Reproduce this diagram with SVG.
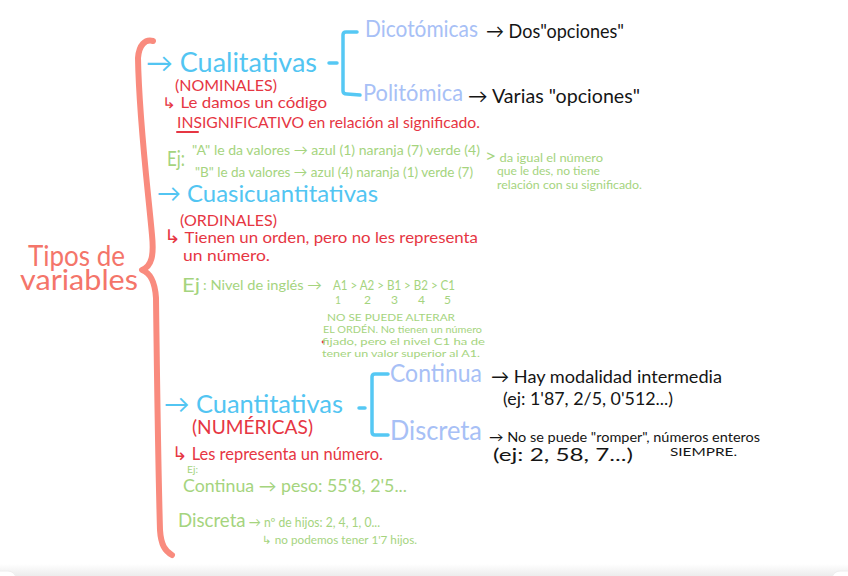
<svg xmlns="http://www.w3.org/2000/svg" width="848" height="576" viewBox="0 0 848 576">
<defs>
<linearGradient id="shade" x1="0" y1="0" x2="0" y2="1">
<stop offset="0" stop-color="#ffffff"/>
<stop offset="1" stop-color="#ececec"/>
</linearGradient>
<style>
text{font-family:Lato,"Open Sans","DejaVu Sans",sans-serif;}
.ttl{fill:#f4756a;font-size:29px;}
.cy{fill:#52c5f2;}
.pw{fill:#a7c0f6;}
.rd{fill:#e63643;}
.gr{fill:#a5d47e;}
.bk{fill:#151515;}
.brace{fill:none;stroke:#f98b7e;stroke-width:6;stroke-linecap:round;stroke-linejoin:round;}
.brk{fill:none;stroke:#55c8f4;stroke-width:3.5;stroke-linecap:round;stroke-linejoin:round;}
</style>
</defs>
<rect width="848" height="576" fill="#ffffff"/>
<rect x="0" y="564" width="848" height="12" fill="url(#shade)"/>
<rect x="-20" y="571" width="36" height="20" rx="8" fill="#ffffff" stroke="#eeeeee"/>
<rect x="832" y="571" width="36" height="20" rx="8" fill="#ffffff" stroke="#eeeeee"/>

<g id="connectors">
<path class="brace" d="M153 41 C145 39 139 45 138 58 C139 120 148 190 152 235 C154 255 152 266 142 270 C151 273 155 282 156 298 C157 380 158 460 160 530 C161 545 165 551 172 555"/>
<path class="brk" d="M357 32 L346 32 Q343 32 343 35 L343 91 Q343 94 347 94 L360 95"/>
<path class="brk" d="M329 63 L337 63"/>
<path class="brk" d="M388 374 L375 374 Q372 374 372 377 L372 432 Q372 435 375 435 L388 435"/>
<path class="brk" d="M359 408 L365 408"/>
</g>

<g id="title">
<text class="ttl" x="28" y="266" textLength="97" lengthAdjust="spacingAndGlyphs">Tipos de</text>
<text class="ttl" x="20" y="290" textLength="118" lengthAdjust="spacingAndGlyphs">variables</text>
</g>

<g id="cualitativas">
<text class="cy" x="146" y="72" font-size="26" textLength="171" lengthAdjust="spacingAndGlyphs">→ Cualitativas</text>
<text class="rd" x="175" y="91" font-size="15.5" textLength="102" lengthAdjust="spacingAndGlyphs">(NOMINALES)</text>
<text class="rd" x="162" y="108" font-size="15" textLength="165" lengthAdjust="spacingAndGlyphs">↳ Le damos un código</text>
<text class="rd" x="177" y="128" font-size="16" textLength="303" lengthAdjust="spacingAndGlyphs">INSIGNIFICATIVO en relación al significado.</text>
<path d="M177 132 L198 132" stroke="#e63643" stroke-width="2" stroke-linecap="round"/>
</g>

<g id="dicotomicas">
<text class="pw" x="365" y="37" font-size="24" textLength="113" lengthAdjust="spacingAndGlyphs">Dicotómicas</text>
<text class="bk" x="486" y="38" font-size="19" textLength="138" lengthAdjust="spacingAndGlyphs">→ Dos"opciones"</text>
</g>

<g id="politomica">
<text class="pw" x="363" y="101" font-size="23" textLength="100" lengthAdjust="spacingAndGlyphs">Politómica</text>
<text class="bk" x="468" y="103" font-size="19" textLength="172" lengthAdjust="spacingAndGlyphs">→ Varias "opciones"</text>
</g>

<g id="ejemplo-nominales">
<text class="gr" x="167" y="166" font-size="22" textLength="18" lengthAdjust="spacingAndGlyphs">Ej:</text>
<text class="gr" x="192" y="155" font-size="14" textLength="288" lengthAdjust="spacingAndGlyphs">"A" le da valores → azul (1) naranja (7) verde (4)</text>
<text class="gr" x="195" y="177" font-size="14" textLength="278" lengthAdjust="spacingAndGlyphs">"B" le da valores → azul (4) naranja (1) verde (7)</text>
<text class="gr" x="485" y="162" font-size="12" textLength="118" lengthAdjust="spacingAndGlyphs"><tspan font-size="18">&gt;</tspan> da igual el número</text>
<text class="gr" x="497" y="175" font-size="12" textLength="103" lengthAdjust="spacingAndGlyphs">que le des, no tiene</text>
<text class="gr" x="497" y="189" font-size="12" textLength="145" lengthAdjust="spacingAndGlyphs">relación con su significado.</text>
</g>

<g id="cuasicuantitativas">
<text class="cy" x="157" y="202" font-size="24" textLength="221" lengthAdjust="spacingAndGlyphs">→ Cuasicuantitativas</text>
<text class="rd" x="180" y="226" font-size="16" textLength="97" lengthAdjust="spacingAndGlyphs">(ORDINALES)</text>
<text class="rd" x="164" y="243" font-size="16" textLength="314" lengthAdjust="spacingAndGlyphs"><tspan font-size="19">↳</tspan> Tienen un orden, pero no les representa</text>
<text class="rd" x="183" y="261" font-size="16" textLength="87" lengthAdjust="spacingAndGlyphs">un número.</text>
</g>

<g id="ejemplo-ordinales">
<text class="gr" x="182" y="292" font-size="20" textLength="18" lengthAdjust="spacingAndGlyphs">Ej</text>
<text class="gr" x="203" y="290" font-size="14" textLength="119" lengthAdjust="spacingAndGlyphs">: Nivel de inglés →</text>
<text class="gr" x="333" y="290" font-size="14" textLength="122" lengthAdjust="spacingAndGlyphs">A1 &gt; A2 &gt; B1 &gt; B2 &gt; C1</text>
<text class="gr" x="335" y="304" font-size="11" textLength="6" lengthAdjust="spacingAndGlyphs">1</text>
<text class="gr" x="364" y="304" font-size="11" textLength="7" lengthAdjust="spacingAndGlyphs">2</text>
<text class="gr" x="391" y="304" font-size="11" textLength="7" lengthAdjust="spacingAndGlyphs">3</text>
<text class="gr" x="418" y="304" font-size="11" textLength="7" lengthAdjust="spacingAndGlyphs">4</text>
<text class="gr" x="444" y="304" font-size="11" textLength="7" lengthAdjust="spacingAndGlyphs">5</text>
<text class="gr" x="327" y="321" font-size="10" textLength="128" lengthAdjust="spacingAndGlyphs">NO SE PUEDE ALTERAR</text>
<text class="gr" x="323" y="332.5" font-size="10" textLength="159" lengthAdjust="spacingAndGlyphs">EL ORDÉN. No tienen un número</text>
<circle cx="323" cy="342" r="1.4" fill="#e63643"/>
<text class="gr" x="322" y="344.5" font-size="10" textLength="163" lengthAdjust="spacingAndGlyphs">fijado, pero el nivel C1 ha de</text>
<text class="gr" x="322" y="356.5" font-size="10" textLength="158" lengthAdjust="spacingAndGlyphs">tener un valor superior al A1.</text>
</g>

<g id="cuantitativas">
<text class="cy" x="164" y="413" font-size="25" textLength="179" lengthAdjust="spacingAndGlyphs">→ Cuantitativas</text>
<text class="rd" x="192" y="434" font-size="19" textLength="121" lengthAdjust="spacingAndGlyphs">(NUMÉRICAS)</text>
<text class="rd" x="172" y="460" font-size="17" textLength="211" lengthAdjust="spacingAndGlyphs"><tspan font-size="19">↳</tspan> Les representa un número.</text>
</g>

<g id="continua">
<text class="pw" x="390" y="382" font-size="25" textLength="92" lengthAdjust="spacingAndGlyphs">Continua</text>
<text class="bk" x="491" y="383" font-size="18" textLength="231" lengthAdjust="spacingAndGlyphs">→ Hay modalidad intermedia</text>
<text class="bk" x="503" y="405" font-size="18" textLength="170" lengthAdjust="spacingAndGlyphs">(ej: 1'87, 2/5, 0'512...)</text>
</g>

<g id="discreta">
<text class="pw" x="390" y="440" font-size="27" textLength="92" lengthAdjust="spacingAndGlyphs">Discreta</text>
<text class="bk" x="489" y="441.5" font-size="13" textLength="271" lengthAdjust="spacingAndGlyphs">→ No se puede "romper", números enteros</text>
<text class="bk" x="670" y="456" font-size="11" textLength="67" lengthAdjust="spacingAndGlyphs">SIEMPRE.</text>
<text class="bk" x="493" y="461" font-size="16.5" textLength="140" lengthAdjust="spacingAndGlyphs">(ej: 2, 58, 7...)</text>
</g>

<g id="ejemplo-numericas">
<text class="gr" x="187" y="473.2" font-size="9" textLength="11" lengthAdjust="spacingAndGlyphs">Ej:</text>
<text class="gr" x="183" y="492" font-size="16.5" textLength="224" lengthAdjust="spacingAndGlyphs">Continua → peso: 55'8, 2'5...</text>
<text class="gr" x="178" y="527" font-size="13" textLength="202" lengthAdjust="spacingAndGlyphs"><tspan font-size="20">Discreta</tspan> → nº de hijos: 2, 4, 1, 0...</text>
<text class="gr" x="262" y="544" font-size="11" textLength="155" lengthAdjust="spacingAndGlyphs">↳ no podemos tener 1'7 hijos.</text>
</g>
</svg>
